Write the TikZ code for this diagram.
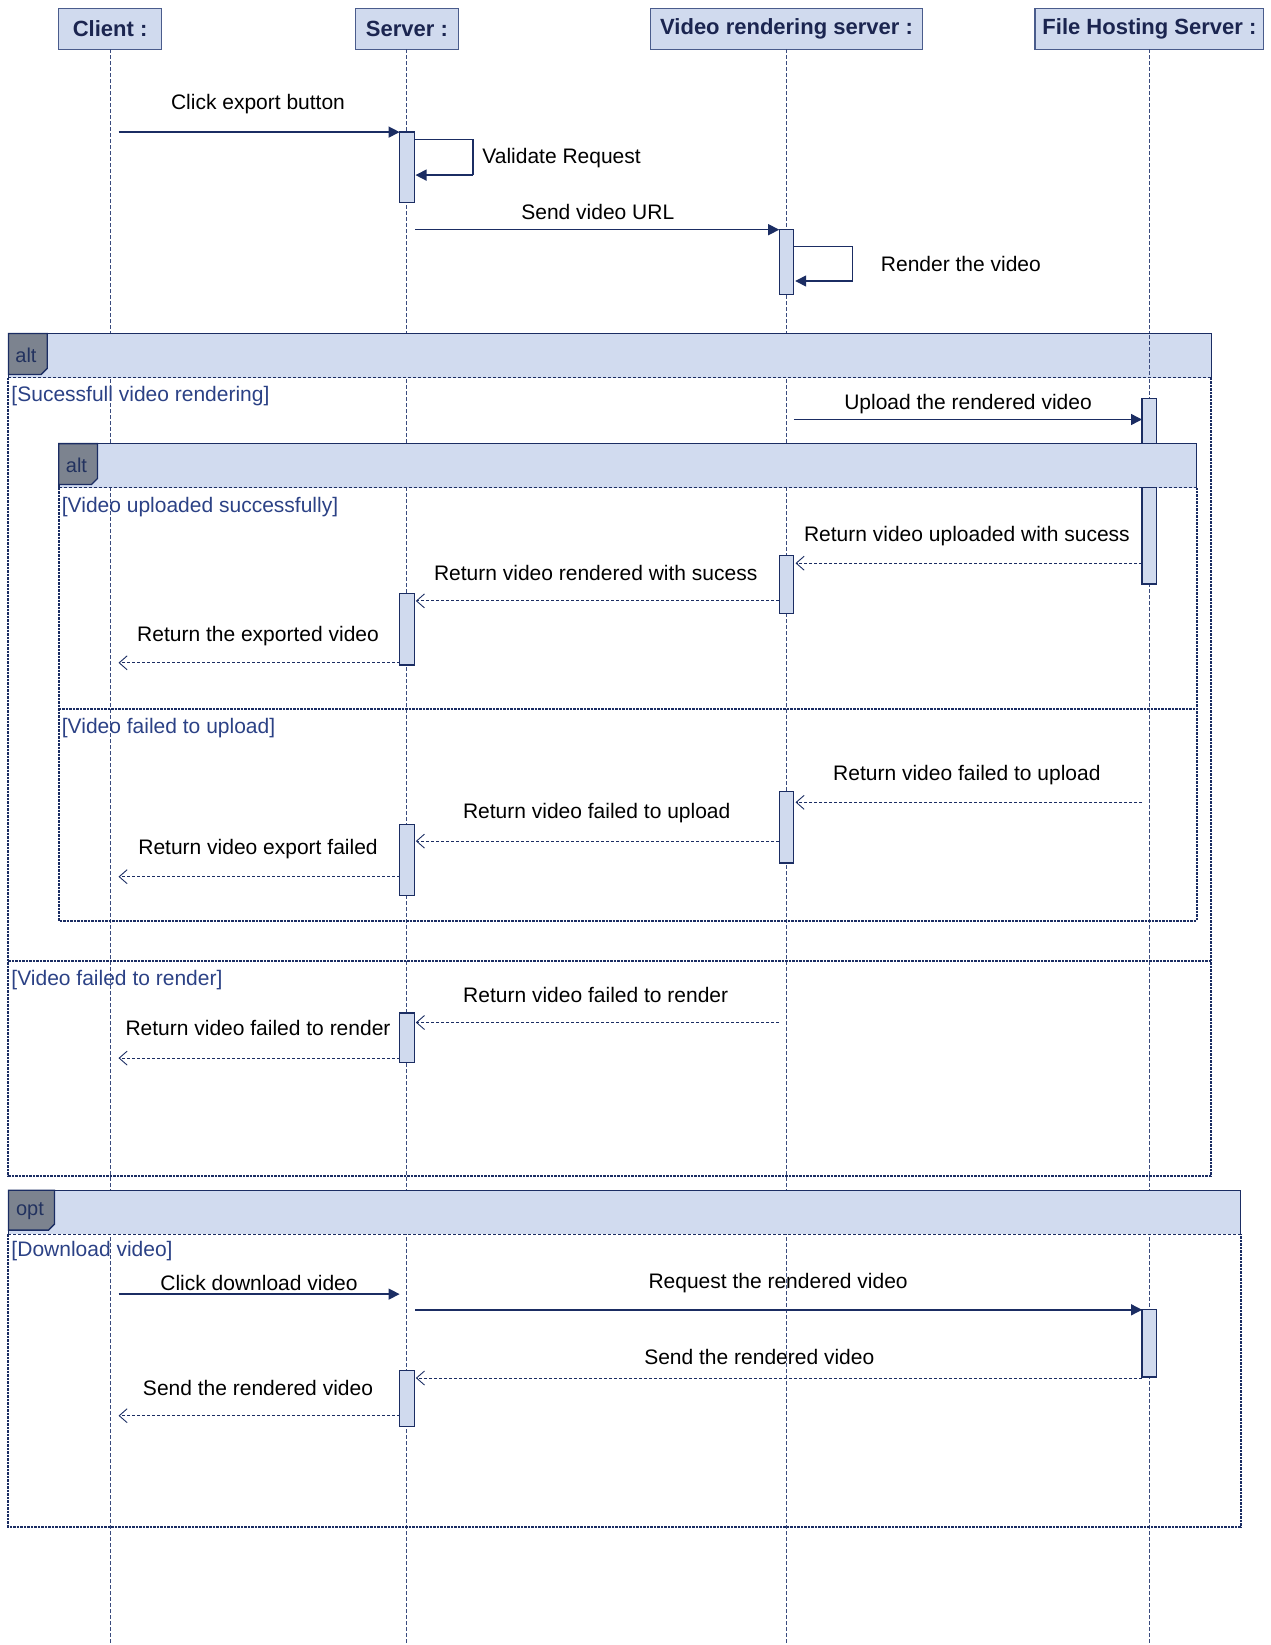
\documentclass[tikz,border=0pt]{standalone}
\usepackage{fontspec}
\setmainfont{Liberation Sans}
\usetikzlibrary{arrows.meta}
\definecolor{navy}{HTML}{1B2D63}
\definecolor{hdrfill}{HTML}{D0DAEE}
\definecolor{hdrline}{HTML}{4A5C8C}
\definecolor{hdrtext}{HTML}{1B2550}
\definecolor{bandfill}{HTML}{D1DBEF}
\definecolor{tagfill}{HTML}{7C838F}
\definecolor{tagtext}{HTML}{22325F}
\definecolor{lifec}{HTML}{3A4B7E}
\definecolor{guardc}{HTML}{2B4185}
\begin{document}
\begin{tikzpicture}[x=1pt,y=-1pt,
  every node/.style={font=\fontsize{21}{25}\selectfont, inner sep=0pt, outer sep=0pt},
  hdr/.style={draw=hdrline, fill=hdrfill, line width=1.3pt, text=hdrtext,
    font=\fontsize{22}{26}\selectfont\bfseries, minimum height=40.9},
  life/.style={draw=lifec, line width=0.9pt, dash pattern=on 4pt off 2pt},
  act/.style={draw=navy, fill=hdrfill, line width=1.3pt, minimum width=14.6},
  sync/.style={draw=navy, line width=1.4pt, -{Triangle[length=11pt,width=11pt]}},
  ret/.style={draw=navy, line width=0.9pt, dash pattern=on 3pt off 2pt,
    -{Straight Barb[length=8pt,width=14pt,line width=0.9pt]}},
  msg/.style={text=black, yshift=-2.5pt},
  guard/.style={text=guardc, anchor=west, yshift=-2.5pt},
  tagbox/.style={draw=navy, fill=tagfill, line width=1.3pt},
  tagtxt/.style={text=tagtext, font=\fontsize{20}{24}\selectfont, yshift=-1.5pt},
  bandedge/.style={draw=navy, line width=1.6pt},
  framebody/.style={draw=navy, line width=2pt, dash pattern=on 2.5pt off 1pt},
  bandline/.style={draw=navy, line width=0.9pt, dash pattern=on 3pt off 2pt},
  divider/.style={draw=navy, line width=2pt, dash pattern=on 2.5pt off 1pt}
]
\useasboundingbox (0,0) rectangle (1270,1645);

% ---------- headers ----------
\node[hdr, minimum width=102.8] (client) at (110.1,28.85) {Client :};
\node[hdr, minimum width=102.8] (server) at (406.9,28.85) {Server :};
\node[hdr, minimum width=271.6] (vrs) at (786.5,28.85) {Video rendering server :};
\node[hdr, minimum width=228.6] (fhs) at (1149.4,28.85) {File Hosting Server :};

% ---------- lifelines ----------
\coordinate (clientEnd) at (110.1,1645);
\coordinate (serverEnd) at (406.9,1645);
\coordinate (vrsEnd) at (786.5,1645);
\coordinate (fhsEnd) at (1149.4,1645);
\draw[life] (client.south) -- (clientEnd);
\draw[life] (server.south) -- (serverEnd);
\draw[life] (vrs.south) -- (vrsEnd);
\draw[life] (fhs.south) -- (fhsEnd);

% ---------- first messages ----------
\node[act, minimum height=70.3] (a1) at (406.9,167.25) {};
\coordinate (m1s) at (118.5,132.1);
\draw[sync] (m1s) -- (a1.north west);
\node[msg] (l1) at (258,101.7) {Click export button};

\coordinate (s1a) at (414.2,139.5);
\coordinate (s1b) at (473,139.5);
\coordinate (s1c) at (473,175.1);
\coordinate (s1d) at (415.5,175.1);
\draw[draw=navy, line width=1.4pt] (s1a) -- (s1b) -- (s1c);
\draw[sync] (s1c) -- (s1d);
\node[msg, anchor=west] (l2) at (482.4,155.2) {Validate Request};

\node[act, minimum height=65] (a2) at (786.5,262.2) {};
\coordinate (m3s) at (415.3,229.7);
\draw[sync] (m3s) -- (a2.north west);
\node[msg] (l3) at (597.8,209.7) {Send video URL};

\coordinate (s2a) at (793.9,246.4);
\coordinate (s2b) at (852.6,246.4);
\coordinate (s2c) at (852.6,281);
\coordinate (s2d) at (795.2,281);
\draw[draw=navy, line width=1.4pt] (s2a) -- (s2b) -- (s2c);
\draw[sync] (s2c) -- (s2d);
\node[msg, anchor=west] (l4) at (880.9,261.1) {Render the video};

% ---------- outer alt frame ----------
\fill[bandfill] (8.4,333.5) rectangle (1211.3,377.5);
\draw[bandedge] (8.4,377.5) -- (8.4,333.5) -- (1211.3,333.5) -- (1211.3,377.5);
\draw[framebody] (8.4,377.5) -- (8.4,1175.6) -- (1211.3,1175.6) -- (1211.3,377.5);
\draw[bandline] (8.4,377.5) -- (1211.3,377.5);
\draw[life] (1149.4,335) -- (1149.4,377);
\draw[tagbox] (8.4,333.5) -- (47.2,333.5) -- (47.2,368.4) -- (41.2,374.4) -- (8.4,374.4) -- cycle;
\node[tagtxt] (tag1) at (26,354) {alt};
\node[guard] (g1) at (11.5,393.3) {[Sucessfull video rendering]};

\node[act, minimum height=185.6] (a3) at (1149.4,491.3) {};
\coordinate (m5s) at (793.9,419.5);
\coordinate (m5e) at (1142,419.5);
\draw[sync] (m5s) -- (m5e);
\node[msg] (l5) at (968,401.7) {Upload the rendered video};

% ---------- inner alt frame ----------
\fill[bandfill] (58.7,443.6) rectangle (1196.6,487.6);
\draw[bandedge] (58.7,487.6) -- (58.7,443.6) -- (1196.6,443.6) -- (1196.6,487.6);
\draw[framebody] (58.7,487.6) -- (58.7,920.8) -- (1196.6,920.8) -- (1196.6,487.6);
\draw[bandline] (58.7,487.6) -- (1196.6,487.6);
\draw[tagbox] (58.7,443.6) -- (97.5,443.6) -- (97.5,478.5) -- (91.5,484.5) -- (58.7,484.5) -- cycle;
\node[tagtxt] (tag2) at (76.5,464) {alt};
\node[guard] (g2) at (61.9,504.4) {[Video uploaded successfully]};
\draw[act, fill=hdrfill] (1142,487.6) rectangle (1156.7,584.1);

\node[act, minimum height=57.7] (a4) at (786.5,584.65) {};
\node[act, minimum height=71.3] (a5) at (406.9,629.25) {};
\coordinate (m6s) at (1142,563.2);
\coordinate (m6e) at (795.5,563.2);
\draw[ret] (m6s) -- (m6e);
\node[msg] (l6) at (966.9,533.8) {Return video uploaded with sucess};
\coordinate (m7s) at (779.2,600.9);
\coordinate (m7e) at (415.8,600.9);
\draw[ret] (m7s) -- (m7e);
\node[msg] (l7) at (595.7,570.5) {Return video rendered with sucess};
\coordinate (m8s) at (399.6,662.8);
\coordinate (m8e) at (118.5,662.8);
\draw[ret] (m8s) -- (m8e);
\node[msg] (l8) at (258,633.4) {Return the exported video};

\draw[divider] (58.7,708.9) -- (1196.6,708.9);
\node[guard] (g3) at (61.9,725.7) {[Video failed to upload]};

\node[act, minimum height=71.3] (a6) at (786.5,827.45) {};
\node[act, minimum height=71.3] (a7) at (406.9,859.95) {};
\coordinate (m9s) at (1142,802.3);
\coordinate (m9e) at (795.5,802.3);
\draw[ret] (m9s) -- (m9e);
\node[msg] (l9) at (966.9,772.9) {Return video failed to upload};
\coordinate (m10s) at (779.2,841.1);
\coordinate (m10e) at (415.8,841.1);
\draw[ret] (m10s) -- (m10e);
\node[msg] (l10) at (596.7,810.6) {Return video failed to upload};
\coordinate (m11s) at (399.6,876.7);
\coordinate (m11e) at (118.5,876.7);
\draw[ret] (m11s) -- (m11e);
\node[msg] (l11) at (258,846.3) {Return video export failed};

% ---------- outer alt: failed to render ----------
\draw[divider] (8.4,960.6) -- (1211.3,960.6);
\node[guard] (g4) at (11.5,977.4) {[Video failed to render]};
\node[act, minimum height=49.3] (a8) at (406.9,1037.65) {};
\coordinate (m12s) at (779.2,1022.5);
\coordinate (m12e) at (415.8,1022.5);
\draw[ret] (m12s) -- (m12e);
\node[msg] (l12) at (595.7,992.1) {Return video failed to render};
\coordinate (m13s) at (399.6,1058.1);
\coordinate (m13e) at (118.5,1058.1);
\draw[ret] (m13s) -- (m13e);
\node[msg] (l13) at (258,1025.6) {Return video failed to render};

% ---------- opt frame ----------
\fill[bandfill] (8.4,1190.3) rectangle (1240.6,1234.3);
\draw[bandedge] (8.4,1234.3) -- (8.4,1190.3) -- (1240.6,1190.3) -- (1240.6,1234.3);
\draw[framebody] (8.4,1234.3) -- (8.4,1526.9) -- (1240.6,1526.9) -- (1240.6,1234.3);
\draw[bandline] (8.4,1234.3) -- (1240.6,1234.3);
\draw[tagbox] (8.4,1190.3) -- (54.5,1190.3) -- (54.5,1224.1) -- (48.5,1230.1) -- (8.4,1230.1) -- cycle;
\node[tagtxt] (tag3) at (30,1210) {opt};
\node[guard] (g5) at (11.5,1249) {[Download video]};

\coordinate (m14s) at (118.5,1294.1);
\coordinate (m14e) at (399.6,1294.1);
\draw[sync] (m14s) -- (m14e);
\node[msg] (l14) at (259,1280.5) {Click download video};

\node[act, minimum height=67.1] (a9) at (1149.4,1343.35) {};
\coordinate (m15s) at (415.3,1309.8);
\draw[sync] (m15s) -- (a9.north west);
\node[msg] (l15) at (778.1,1280.5) {Request the rendered video};

\node[act, minimum height=55.5] (a10) at (406.9,1398.45) {};
\coordinate (m16s) at (1142,1378);
\coordinate (m16e) at (415.8,1378);
\draw[ret] (m16s) -- (m16e);
\node[msg] (l16) at (759.3,1354.9) {Send the rendered video};
\coordinate (m17s) at (399.6,1415.7);
\coordinate (m17e) at (118.5,1415.7);
\draw[ret] (m17s) -- (m17e);
\node[msg] (l17) at (258,1385.3) {Send the rendered video};
\end{tikzpicture}
\end{document}
